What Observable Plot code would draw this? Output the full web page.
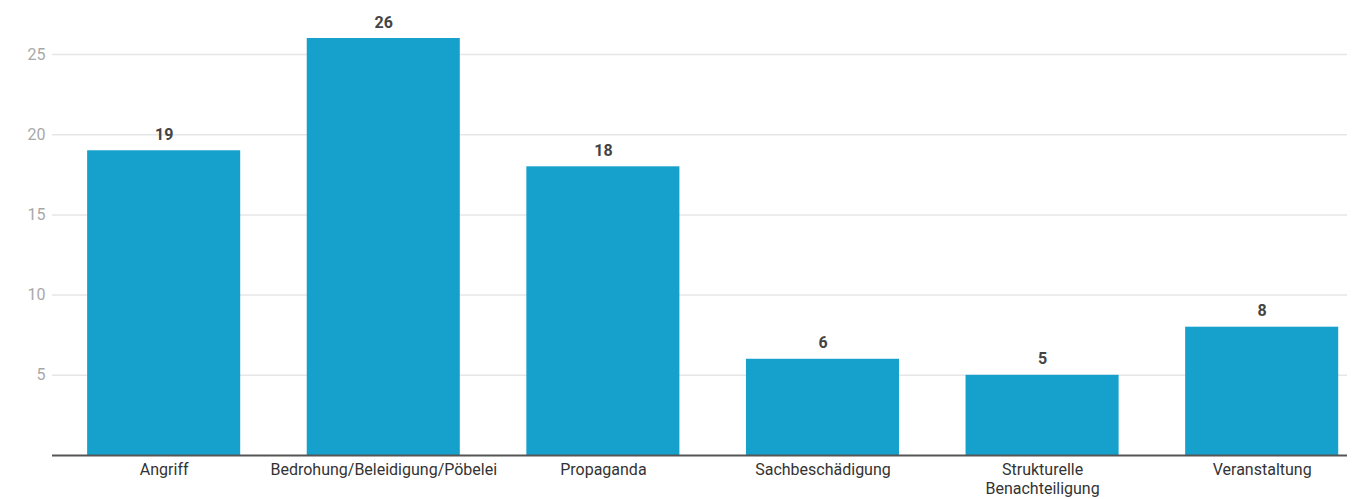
<!DOCTYPE html>
<html>
<head>
<meta charset="utf-8">
<script src="https://cdn.jsdelivr.net/npm/d3@7"></script>
<script src="https://cdn.jsdelivr.net/npm/@observablehq/plot@0.6"></script>
<style>
  html, body { margin: 0; padding: 0; background: #fff; }
  svg { display: block; }
</style>
</head>
<body>
<div id="chart"></div>
<script>
const categories = ["Angriff", "Bedrohung/Beleidigung/Pöbelei", "Propaganda", "Sachbeschädigung", "Strukturelle Benachteiligung", "Veranstaltung"];
const tickLabels = ["Angriff", "Bedrohung/Beleidigung/Pöbelei", "Propaganda", "Sachbeschädigung", "Strukturelle\nBenachteiligung", "Veranstaltung"];
const values = [19, 26, 18, 6, 5, 8];
const yTicks = [5, 10, 15, 20, 25];

const data = categories.map((c, i) => ({category: c, value: values[i]}));
const labelOf = new Map(categories.map((c, i) => [c, tickLabels[i]]));

const chart = Plot.plot({
  width: 1360,
  height: 499,
  marginLeft: 52,
  marginRight: 13,
  marginTop: 38,
  marginBottom: 44,
  style: {fontFamily: "Roboto, sans-serif", background: "#fff"},
  x: {domain: categories, paddingInner: 0.303, paddingOuter: 0.1, align: 0.8, round: false},
  y: {domain: [0, 26]},
  marks: [
    Plot.ruleY(yTicks, {stroke: "#e6e6e6", strokeWidth: 1.5}),
    Plot.axisY(yTicks, {tickSize: 0, tickPadding: 7, fontSize: 16, fill: "#a8a8a8", label: null}),
    Plot.barY(data, {x: "category", y: "value", fill: "#15a1cc"}),
    Plot.ruleY([0], {stroke: "#555555", strokeWidth: 1.8}),
    Plot.text(data, {x: "category", y: "value", text: d => String(d.value), dy: -16, fontSize: 16, fontWeight: "bold", fill: "#444444"}),
    Plot.axisX({tickSize: 0, tickPadding: 6, fontSize: 16, fill: "#333333", label: null, lineHeight: 1.2, tickFormat: c => labelOf.get(c)})
  ]
});
document.getElementById("chart").appendChild(chart);
</script>
</body>
</html>
